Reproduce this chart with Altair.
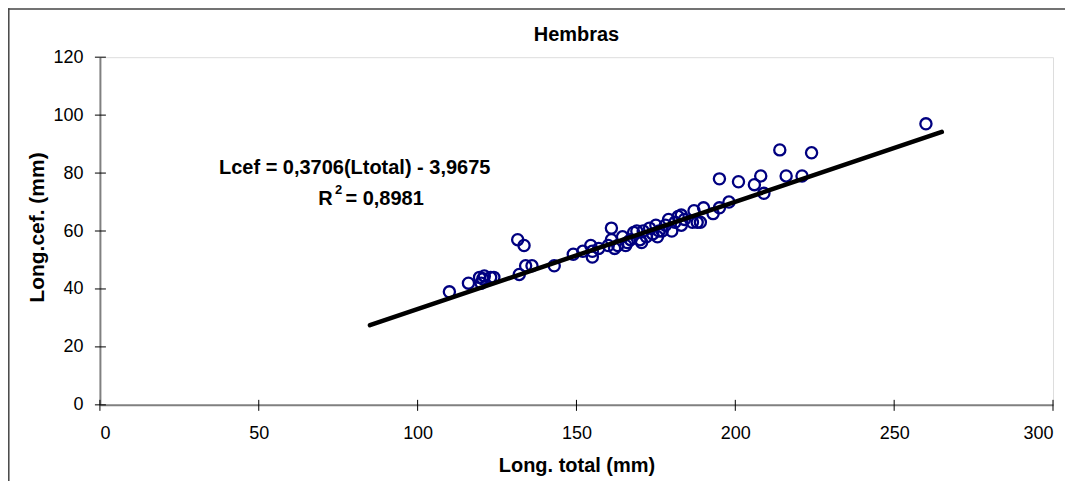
import altair as alt
import pandas as pd

# Scatter data: total length (mm) vs cephalic length (mm)
long_total = [110, 116, 119.5, 120, 120.5, 121, 123, 124,
              131.5, 133.5, 132, 134, 136, 143, 149, 152, 154.5, 155, 155, 157,
              160, 161, 161, 162, 163, 164.5, 165.5, 166, 167, 168, 169, 170,
              170.5, 171, 172, 173, 174, 175, 175.5, 176, 177, 178, 179, 180,
              181, 182, 183, 183, 184, 186.5, 187, 188, 189, 190, 193, 195,
              195, 198, 201, 206, 208, 209, 214, 216, 221, 224, 260]
long_cef = [39, 42, 44, 42, 43.5, 44.5, 44, 44,
            57, 55, 45, 48, 48, 48, 52, 53, 55, 51, 53, 54,
            55, 61, 57, 54, 55, 58, 55, 56, 57, 59.5, 60, 57,
            56, 60, 58, 61, 59, 62, 58, 60, 60, 62, 64, 60,
            63, 65, 62, 65.5, 64, 63, 67, 63, 63, 68, 66, 68,
            78, 70, 77, 76, 79, 73, 88, 79, 79, 87, 97]

# Trend line end points (as drawn)
trend_x = [85, 265]
trend_y = [27.5, 94.2]

# Equation annotation (pieces so that the superscript can be drawn)
eq_text = ["Lcef = 0,3706(Ltotal) - 3,9675", "R", "= 0,8981"]
eq_x = [80.2, 73.3, 77.3]
eq_y = [81.6, 71.0, 71.0]
eq_align = ["center", "right", "left"]
sup_text = ["2"]
sup_x = [75.1]
sup_y = [74.0]

x_ticks = [0, 50, 100, 150, 200, 250, 300]
y_ticks = [0, 20, 40, 60, 80, 100, 120]

chart_title = "Hembras"

FONT = "Liberation Sans"

pts = pd.DataFrame({"x": long_total, "y": long_cef})
trend = pd.DataFrame({"x": trend_x, "y": trend_y})
eq = pd.DataFrame({"x": eq_x, "y": eq_y, "t": eq_text, "a": eq_align})
sup = pd.DataFrame({"x": sup_x, "y": sup_y, "t": sup_text})
xt = pd.DataFrame({"x": x_ticks})
yt = pd.DataFrame({"y": y_ticks})

xscale = alt.Scale(domain=[0, 300], nice=False, zero=False)
yscale = alt.Scale(domain=[0, 120], nice=False, zero=False)

x_axis = alt.Axis(values=x_ticks, title="Long. total (mm)", ticks=False, tickSize=0,
                  domain=True, domainColor="#808080", domainWidth=2,
                  labelFont=FONT, labelFontSize=18, labelColor="black", labelPadding=20,
                  titleFont=FONT, titleFontSize=20, titleFontWeight="bold", titleColor="black",
                  titleX=477, titleY=61, titleBaseline="middle", titleAlign="center",
                  grid=False)
y_axis = alt.Axis(values=y_ticks, title="Long.cef. (mm)", ticks=False, tickSize=0,
                  domain=True, domainColor="#808080", domainWidth=2,
                  labelFont=FONT, labelFontSize=18, labelColor="black", labelPadding=17,
                  titleFont=FONT, titleFontSize=21, titleFontWeight="bold", titleColor="black",
                  titleX=-62, titleY=170, titleBaseline="middle", titleAlign="center",
                  titleAngle=270, grid=False)


def X(field="x"):
    return alt.X(f"{field}:Q", scale=xscale, axis=x_axis)


def Y(field="y"):
    return alt.Y(f"{field}:Q", scale=yscale, axis=y_axis)


points = alt.Chart(pts).mark_point(
    shape="circle", filled=False, color="#000080", strokeWidth=2.3, size=125, opacity=1
).encode(x=X(), y=Y())

line = alt.Chart(trend).mark_line(color="black", strokeWidth=4.5, strokeCap="round").encode(
    x=X(), y=Y()
)

# crossing tick marks on both axes
x_tick_marks = alt.Chart(xt).mark_rule(color="black", strokeWidth=1).encode(
    x=X(), y=alt.value(343), y2=alt.value(354),
)
y_tick_marks = alt.Chart(yt).mark_rule(color="black", strokeWidth=1).encode(
    y=Y(), x=alt.value(-5), x2=alt.value(6),
)

text_layers = []
for a in ["center", "right", "left"]:
    text_layers.append(
        alt.Chart(eq[eq["a"] == a]).mark_text(
            font=FONT, fontSize=20, fontWeight="bold", color="black", align=a, baseline="middle"
        ).encode(x=X(), y=Y(), text="t:N")
    )
sup_layer = alt.Chart(sup).mark_text(
    font=FONT, fontSize=13, fontWeight="bold", color="black", align="center", baseline="middle"
).encode(x=X(), y=Y(), text="t:N")

title_layer = alt.Chart(pd.DataFrame({"t": [chart_title]})).mark_text(
    font=FONT, fontSize=20, fontWeight="bold", color="black", align="center",
    baseline="alphabetic"
).encode(x=alt.value(477), y=alt.value(-16), text="t:N")

frame = pd.DataFrame({"k": [0]})
frame_top = alt.Chart(frame).mark_rule(color="#444444", strokeWidth=1.5).encode(
    x=alt.value(-92), x2=alt.value(980), y=alt.value(-48.2)
)
frame_left = alt.Chart(frame).mark_rule(color="#444444", strokeWidth=1.5).encode(
    x=alt.value(-91.2), y=alt.value(-49), y2=alt.value(426)
)

chart = alt.layer(
    points, line, x_tick_marks, y_tick_marks, *text_layers, sup_layer, title_layer,
    frame_top, frame_left
).properties(
    width=954, height=348,
    autosize=alt.AutoSizeParams(type="none"),
    padding={"left": 92, "top": 49, "right": 12, "bottom": 76},
).configure_view(stroke=None).configure(background="white")

chart.save("out.html", embed_options={"renderer": "svg", "actions": False})
